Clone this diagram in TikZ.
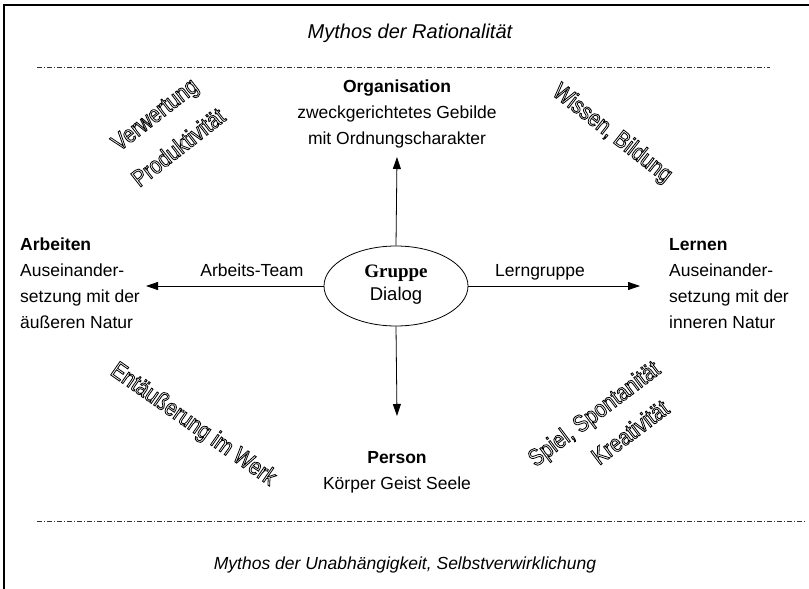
\documentclass[tikz,border=0pt]{standalone}
\usepackage{fontspec}
\setmainfont{Liberation Sans}
\newfontfamily\timesf{Liberation Serif}
\newfontfamily\narrowf[FakeStretch=0.84]{Liberation Sans}
\newcommand{\hollow}[1]{\special{pdf:literal direct 1 Tr 0.8 w}#1\special{pdf:literal direct 0 Tr}}
\usetikzlibrary{arrows.meta,shapes.geometric}
\begin{document}
\begin{tikzpicture}[x=1pt,y=-1pt,
  txt/.style={font=\fontsize{17.5}{26}\selectfont, inner sep=0pt, anchor=base},
  txtl/.style={txt, anchor=base west},
  myth/.style={font=\fontsize{17.5}{22}\selectfont\itshape, inner sep=0pt, anchor=base},
  outl/.style={font=\fontsize{24}{28}\selectfont\narrowf, inner sep=0pt},
  arr/.style={line width=0.8pt, -{Triangle[length=12pt,width=8pt]}},
  sep/.style={line width=0.6pt, black!80, dash pattern=on 5pt off 2pt on 1pt off 2pt},
  frame/.style={line width=2.5pt}]
\useasboundingbox (0,0) rectangle (809,589);
% frame
\draw[frame] (4,589) -- (4,5) -- (809,5);
% myths and separators
\node[myth, font=\fontsize{20}{24}\selectfont\itshape] (mtop) at (410,38) {Mythos der Rationalität};
\coordinate (s1a) at (37,67); \coordinate (s1b) at (770,67);
\draw[sep] (s1a) -- (s1b);
\coordinate (s2a) at (37,521); \coordinate (s2b) at (805,521);
\draw[sep] (s2a) -- (s2b);
\node[myth] (mbot) at (405,569) {Mythos der Unabhängigkeit, Selbstverwirklichung};
% centre
\node[draw, ellipse, line width=0.8pt, minimum width=144pt, minimum height=80pt, inner sep=0pt] (g) at (396,286) {};
\node[font=\fontsize{19}{22}\selectfont\timesf\bfseries, inner sep=0pt, anchor=base] (gr) at (396,277) {Gruppe};
\node[font=\fontsize{18.5}{22}\selectfont, inner sep=0pt, anchor=base] (dl) at (396,300) {Dialog};
% top
\node[txt, font=\fontsize{17.5}{26}\selectfont\bfseries] (org) at (397,92) {Organisation};
\node[txt] (org2) at (397,118) {zweckgerichtetes Gebilde};
\node[txt] (org3) at (397,144) {mit Ordnungscharakter};
\coordinate (uptip) at (397,157);
\draw[arr] (g.north) -- (uptip);
% bottom
\coordinate (dntip) at (397,416);
\draw[arr] (g.south) -- (dntip);
\node[txt, font=\fontsize{17.5}{26}\selectfont\bfseries] (per) at (397,463) {Person};
\node[txt] (per2) at (397,489) {Körper Geist Seele};
% left
\coordinate (lftip) at (146,286);
\draw[arr] (g.west) -- (lftip);
\node[txt] (at) at (252,276) {Arbeits-Team};
\node[txtl, font=\fontsize{17.5}{26}\selectfont\bfseries] (arb) at (20,250) {Arbeiten};
\node[txtl] (arb2) at (20,276) {Auseinander-};
\node[txtl] (arb3) at (20,302) {setzung mit der};
\node[txtl] (arb4) at (20,328) {äußeren Natur};
% right
\coordinate (rttip) at (640,286);
\draw[arr] (g.east) -- (rttip);
\node[txt] (lg) at (540,276) {Lerngruppe};
\node[txtl, font=\fontsize{17.5}{26}\selectfont\bfseries] (ler) at (669,250) {Lernen};
\node[txtl] (ler2) at (669,276) {Auseinander-};
\node[txtl] (ler3) at (669,302) {setzung mit der};
\node[txtl] (ler4) at (669,328) {inneren Natur};
% outlined diagonal words
\node[outl, rotate=38] (v1) at (156,116) {\hollow{Verwertung}};
\node[outl, rotate=38] (v2) at (178,147) {\hollow{Produktivität}};
\node[outl, rotate=-38] (w1) at (612,134) {\hollow{Wissen, Bildung}};
\node[outl, rotate=-35] (e1) at (193,425) {\hollow{Entäußerung im Werk}};
\node[outl, rotate=37] (s1) at (595,415) {\hollow{Spiel, Spontanität}};
\node[outl, rotate=37] (s2) at (630,432) {\hollow{Kreativität}};
\end{tikzpicture}
\end{document}
